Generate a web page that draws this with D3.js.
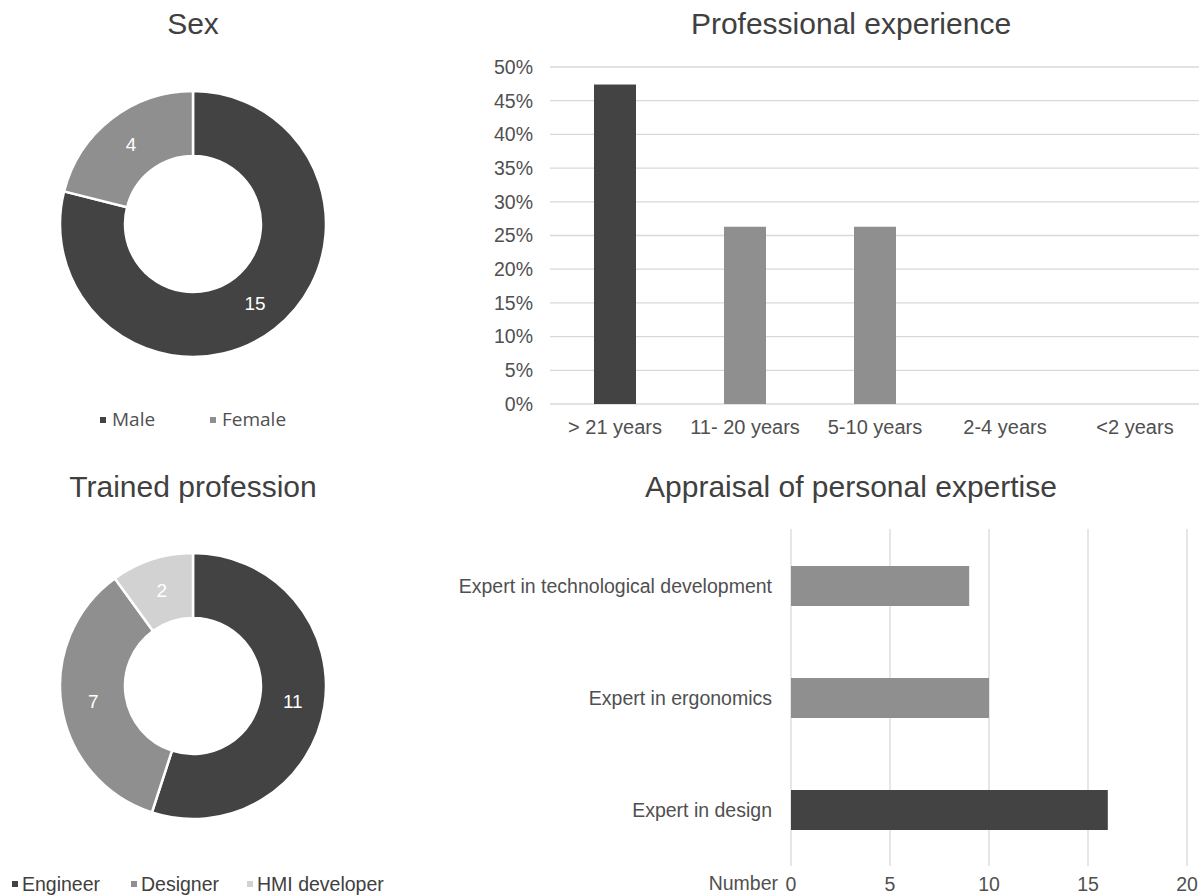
<!DOCTYPE html>
<html>
<head>
<meta charset="utf-8">
<script src="https://cdn.jsdelivr.net/npm/d3@7"></script>
<style>
  html, body { margin: 0; padding: 0; background: #fff; }
  svg { display: block; font-family: "Liberation Sans", Arial, sans-serif; }
</style>
</head>
<body>
<svg id="chart" width="1203" height="896"></svg>
<script>
// ---- data ----
const sexCategories = ["Male", "Female"];
const sexValues = [15, 4];

const professionCategories = ["Engineer", "Designer", "HMI developer"];
const professionValues = [11, 7, 2];

const experienceCategories = ["> 21 years", "11- 20 years", "5-10 years", "2-4 years", "<2 years"];
const experienceValues = [47.4, 26.3, 26.3, 0, 0]; // percent
const experienceTicks = [0, 5, 10, 15, 20, 25, 30, 35, 40, 45, 50];

const expertiseCategories = ["Expert in technological development", "Expert in ergonomics", "Expert in design"];
const expertiseValues = [9, 10, 16];
const expertiseTicks = [0, 5, 10, 15, 20];

// ---- styles ----
const DARK = "#434343", MID = "#8f8f8f", LIGHT = "#d2d2d2";
const TEXT = "#404040", TICK = "#505050", GRID = "#d9d9d9";
const FS = 19.5;

const svg = d3.select("#chart");

function title(x, y, t) {
  svg.append("text").attr("x", x).attr("y", y).attr("text-anchor", "middle")
    .attr("font-size", 30).attr("fill", TEXT).text(t);
}

// ---- donut helper ----
function donut(cx, cy, vals, colors) {
  const g = svg.append("g").attr("transform", `translate(${cx},${cy})`);
  const pie = d3.pie().sort(null).value(d => d)(vals);
  const arc = d3.arc().innerRadius(68).outerRadius(133);
  const labelArc = d3.arc().innerRadius(101).outerRadius(101);
  g.selectAll("path").data(pie).join("path")
    .attr("d", arc).attr("fill", (d, i) => colors[i])
    .attr("stroke", "#fff").attr("stroke-width", 2.5);
  g.selectAll("text").data(pie).join("text")
    .attr("transform", d => `translate(${labelArc.centroid(d)})`)
    .attr("text-anchor", "middle").attr("dy", "0.35em")
    .attr("font-size", 19).attr("fill", "#fff")
    .text(d => d.data);
}

// ---- Sex ----
title(193, 34, "Sex");
donut(193, 224, sexValues, [DARK, MID]);
{
  const items = [{x: 100, c: DARK}, {x: 210, c: MID}];
  const lg = svg.append("g").attr("font-family", "'Open Sans', sans-serif");
  sexCategories.forEach((t, i) => {
    lg.append("rect").attr("x", items[i].x).attr("y", 417).attr("width", 6).attr("height", 6).attr("fill", items[i].c);
    lg.append("text").attr("x", items[i].x + 12).attr("y", 426).attr("font-size", 19).attr("fill", TICK).text(t);
  });
}

// ---- Trained profession ----
title(193, 497, "Trained profession");
donut(193, 686, professionValues, [DARK, MID, LIGHT]);
{
  const items = [{x: 12, c: DARK}, {x: 131, c: MID}, {x: 247, c: LIGHT}];
  professionCategories.forEach((t, i) => {
    svg.append("rect").attr("x", items[i].x).attr("y", 881).attr("width", 6).attr("height", 6).attr("fill", items[i].c);
    svg.append("text").attr("x", items[i].x + 10).attr("y", 891).attr("font-size", FS).attr("fill", TEXT).text(t);
  });
}

// ---- Professional experience ----
title(851, 34, "Professional experience");
{
  const x = d3.scaleBand().domain(experienceCategories).range([550, 1200]).paddingInner(0.677).paddingOuter(0.3385);
  const y = d3.scaleLinear().domain([0, 50]).range([404, 67]);
  const g = svg.append("g");
  g.selectAll("line.grid").data(experienceTicks).join("line")
    .attr("x1", 550).attr("x2", 1199).attr("y1", d => y(d)).attr("y2", d => y(d))
    .attr("stroke", GRID).attr("stroke-width", 1.3);
  g.selectAll("text.yt").data(experienceTicks).join("text")
    .attr("x", 533).attr("y", d => y(d)).attr("dy", "0.35em").attr("text-anchor", "end")
    .attr("font-size", FS).attr("fill", TICK).text(d => d + "%");
  g.selectAll("rect").data(experienceValues).join("rect")
    .attr("x", (d, i) => x(experienceCategories[i])).attr("width", x.bandwidth())
    .attr("y", d => y(d)).attr("height", d => y(0) - y(d))
    .attr("fill", (d, i) => i === 0 ? DARK : MID);
  g.selectAll("text.xt").data(experienceCategories).join("text")
    .attr("x", d => x(d) + x.bandwidth() / 2).attr("y", 427).attr("dy", "0.35em")
    .attr("text-anchor", "middle").attr("font-size", FS + 0.5).attr("fill", TICK).text(d => d);
}

// ---- Appraisal of personal expertise ----
title(851, 497, "Appraisal of personal expertise");
{
  const x = d3.scaleLinear().domain([0, 20]).range([791, 1187]);
  const y = d3.scaleBand().domain(expertiseCategories).range([530, 866]).paddingInner(0.643).paddingOuter(0.3215);
  const g = svg.append("g");
  g.selectAll("line.grid").data(expertiseTicks).join("line")
    .attr("x1", d => x(d)).attr("x2", d => x(d)).attr("y1", 529).attr("y2", 866)
    .attr("stroke", GRID).attr("stroke-width", 1.3);
  g.selectAll("rect").data(expertiseValues).join("rect")
    .attr("x", x(0)).attr("width", d => x(d) - x(0))
    .attr("y", (d, i) => y(expertiseCategories[i])).attr("height", y.bandwidth())
    .attr("fill", (d, i) => i === 2 ? DARK : MID);
  g.selectAll("text.yt").data(expertiseCategories).join("text")
    .attr("x", 772).attr("y", d => y(d) + y.bandwidth() / 2).attr("dy", "0.35em")
    .attr("text-anchor", "end").attr("font-size", FS).attr("fill", TICK).text(d => d);
  g.selectAll("text.xt").data(expertiseTicks).join("text")
    .attr("x", d => x(d)).attr("y", 891)
    .attr("text-anchor", "middle").attr("font-size", FS).attr("fill", TICK).text(d => d);
  g.append("text").attr("x", 778).attr("y", 890)
    .attr("text-anchor", "end").attr("font-size", FS).attr("fill", TICK).text("Number");
}
</script>
</body>
</html>
